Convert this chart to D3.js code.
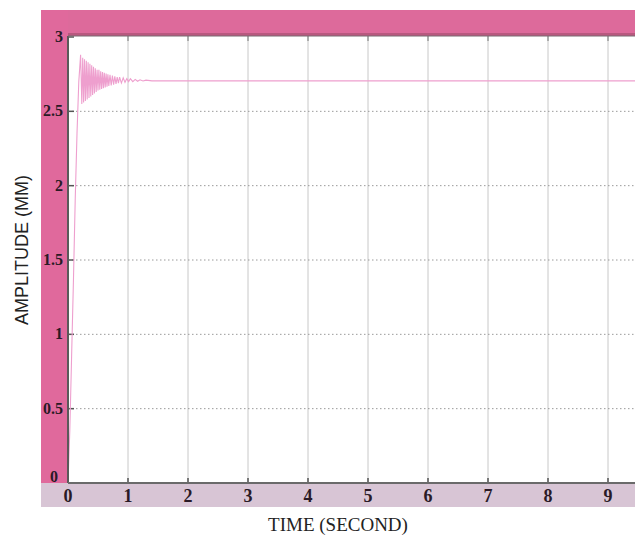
<!DOCTYPE html>
<html>
<head>
<meta charset="utf-8">
<script src="https://cdn.jsdelivr.net/npm/d3@7"></script>
<style>
  body { margin: 0; background: #fff; }
  svg { display: block; }
</style>
</head>
<body>
<div id="chart"></div>
<script>
// step response (time in s, amplitude in mm)
var riseT = [0, 0.03, 0.06, 0.09, 0.12, 0.15, 0.18, 0.21];
var riseA = [0, 0.35, 0.85, 1.35, 1.9, 2.35, 2.7, 2.88];

var oscT = [0.23, 0.245, 0.26, 0.275, 0.29, 0.305, 0.32, 0.335, 0.35, 0.365,
            0.38, 0.395, 0.41, 0.425, 0.44, 0.455, 0.47, 0.485, 0.50, 0.515,
            0.53, 0.545, 0.56, 0.575, 0.59, 0.605, 0.62, 0.635, 0.65, 0.665,
            0.68, 0.70, 0.72, 0.74, 0.76, 0.78, 0.80, 0.82, 0.84, 0.86,
            0.89, 0.92, 0.95, 0.98, 1.01, 1.04, 1.08, 1.12, 1.16, 1.20,
            1.25, 1.30, 1.40, 1.55, 1.8];
var oscA = [2.55, 2.86, 2.56, 2.85, 2.57, 2.84, 2.58, 2.83, 2.59, 2.82,
            2.60, 2.81, 2.61, 2.80, 2.62, 2.79, 2.63, 2.78, 2.64, 2.78,
            2.645, 2.77, 2.65, 2.765, 2.655, 2.76, 2.66, 2.755, 2.665, 2.75,
            2.67, 2.745, 2.675, 2.74, 2.68, 2.735, 2.685, 2.73, 2.69, 2.73,
            2.69, 2.725, 2.695, 2.72, 2.70, 2.72, 2.70, 2.715, 2.702, 2.712,
            2.704, 2.71, 2.705, 2.706, 2.705];
var tailT = [2, 4, 6, 8, 10];
var tailA = [2.705, 2.705, 2.705, 2.705, 2.705];

var xTicks = [0, 1, 2, 3, 4, 5, 6, 7, 8, 9, 10];
var xLabels = [0, 1, 2, 3, 4, 5, 6, 7, 8, 9];
var yTicks = [0, 0.5, 1, 1.5, 2, 2.5, 3];

var W = 635, H = 538;
var plotLeft = 68, plotTop = 36, plotBottom = 483;

var svg = d3.select("#chart").append("svg")
  .attr("width", W)
  .attr("height", H);

var x = d3.scaleLinear().domain([0, 10]).range([plotLeft, plotLeft + 600]);
var y = d3.scaleLinear().domain([0, 3]).range([plotBottom, plotTop + 1]);

// frame bands
svg.append("rect")
  .attr("x", 41).attr("y", 10).attr("width", W - 41).attr("height", plotTop - 10)
  .style("fill", "#dd6a9b");
svg.append("rect")
  .attr("x", 41).attr("y", plotTop - 3).attr("width", W - 41).attr("height", 3)
  .style("fill", "#b8587f");
svg.append("rect")
  .attr("x", 41).attr("y", 10).attr("width", plotLeft - 41).attr("height", plotBottom - 10)
  .style("fill", "#e0699c");
svg.append("rect")
  .attr("x", 41).attr("y", plotBottom).attr("width", W - 41).attr("height", 24)
  .style("fill", "#d8c5d5");

// plot background
svg.append("rect")
  .attr("x", plotLeft).attr("y", plotTop).attr("width", W - plotLeft).attr("height", plotBottom - plotTop)
  .style("fill", "#fff");

// vertical grid
svg.append("g").selectAll("line")
  .data(xTicks.filter(function(d) { return d > 0; }))
  .enter().append("line")
  .attr("x1", function(d) { return x(d); })
  .attr("x2", function(d) { return x(d); })
  .attr("y1", plotTop).attr("y2", plotBottom)
  .style("stroke", "#c8c8c8")
  .style("stroke-width", 1);

// horizontal grid, dotted
svg.append("g").selectAll("line")
  .data(yTicks.filter(function(d) { return d > 0 && d < 3; }))
  .enter().append("line")
  .attr("x1", plotLeft).attr("x2", W)
  .attr("y1", function(d) { return y(d); })
  .attr("y2", function(d) { return y(d); })
  .style("stroke", "#9a9a9a")
  .style("stroke-width", 1)
  .style("stroke-dasharray", "1.5,2.5");

// ticks
svg.append("g").selectAll("line")
  .data(yTicks)
  .enter().append("line")
  .attr("x1", plotLeft).attr("x2", plotLeft + 6)
  .attr("y1", function(d) { return y(d); })
  .attr("y2", function(d) { return y(d); })
  .style("stroke", "#555").style("stroke-width", 1.5);
svg.append("g").selectAll("line")
  .data(xTicks)
  .enter().append("line")
  .attr("x1", function(d) { return x(d); })
  .attr("x2", function(d) { return x(d); })
  .attr("y1", plotBottom).attr("y2", plotBottom - 5)
  .style("stroke", "#555").style("stroke-width", 1.5);
svg.append("g").selectAll("line")
  .data(xTicks)
  .enter().append("line")
  .attr("x1", function(d) { return x(d); })
  .attr("x2", function(d) { return x(d); })
  .attr("y1", plotTop).attr("y2", plotTop + 5)
  .style("stroke", "#777").style("stroke-width", 1);

// the response curve
var pts = [];
riseT.forEach(function(t, i) { pts.push([t, riseA[i]]); });
oscT.forEach(function(t, i) { pts.push([t, oscA[i]]); });
tailT.forEach(function(t, i) { pts.push([t, tailA[i]]); });

svg.append("path")
  .datum(pts)
  .attr("d", d3.line()
    .x(function(d) { return x(d[0]); })
    .y(function(d) { return y(d[1]); }))
  .style("fill", "none")
  .style("stroke", "#ee9fce")
  .style("stroke-width", 1.1);

// plot border
svg.append("line")
  .attr("x1", plotLeft).attr("x2", plotLeft).attr("y1", plotTop).attr("y2", plotBottom)
  .style("stroke", "#5a5a5a").style("stroke-width", 2);
svg.append("line")
  .attr("x1", plotLeft).attr("x2", W).attr("y1", plotBottom).attr("y2", plotBottom)
  .style("stroke", "#6a6a6a").style("stroke-width", 2);
svg.append("line")
  .attr("x1", plotLeft).attr("x2", W).attr("y1", plotTop).attr("y2", plotTop)
  .style("stroke", "#7a6a72").style("stroke-width", 1);

// tick labels
svg.append("g").selectAll("text")
  .data(yTicks)
  .enter().append("text")
  .attr("x", function(d) { return d === 0 ? 58 : 63; })
  .attr("y", function(d) { return d === 0 ? y(d) - 1 : y(d) + 5; })
  .style("text-anchor", "end")
  .style("font-family", "'Liberation Serif', 'DejaVu Serif', serif")
  .style("font-size", "16px")
  .style("font-weight", "bold")
  .style("fill", "#2a1a26")
  .text(function(d) { return d; });

svg.append("g").selectAll("text")
  .data(xLabels)
  .enter().append("text")
  .attr("x", function(d) { return x(d); })
  .attr("y", 502)
  .style("text-anchor", "middle")
  .style("font-family", "'Liberation Serif', 'DejaVu Serif', serif")
  .style("font-size", "18px")
  .style("font-weight", "bold")
  .style("fill", "#2a1a26")
  .text(function(d) { return d; });

// axis titles
svg.append("text")
  .attr("x", 338)
  .attr("y", 531)
  .style("text-anchor", "middle")
  .style("font-family", "'Liberation Serif', serif")
  .style("font-size", "19px")
  .style("fill", "#222")
  .text("TIME (SECOND)");

svg.append("text")
  .attr("transform", "translate(28,250) rotate(-90)")
  .style("text-anchor", "middle")
  .style("font-family", "'Liberation Sans', Arial, sans-serif")
  .style("font-size", "18px")
  .style("fill", "#222")
  .text("AMPLITUDE (MM)");
</script>
</body>
</html>
